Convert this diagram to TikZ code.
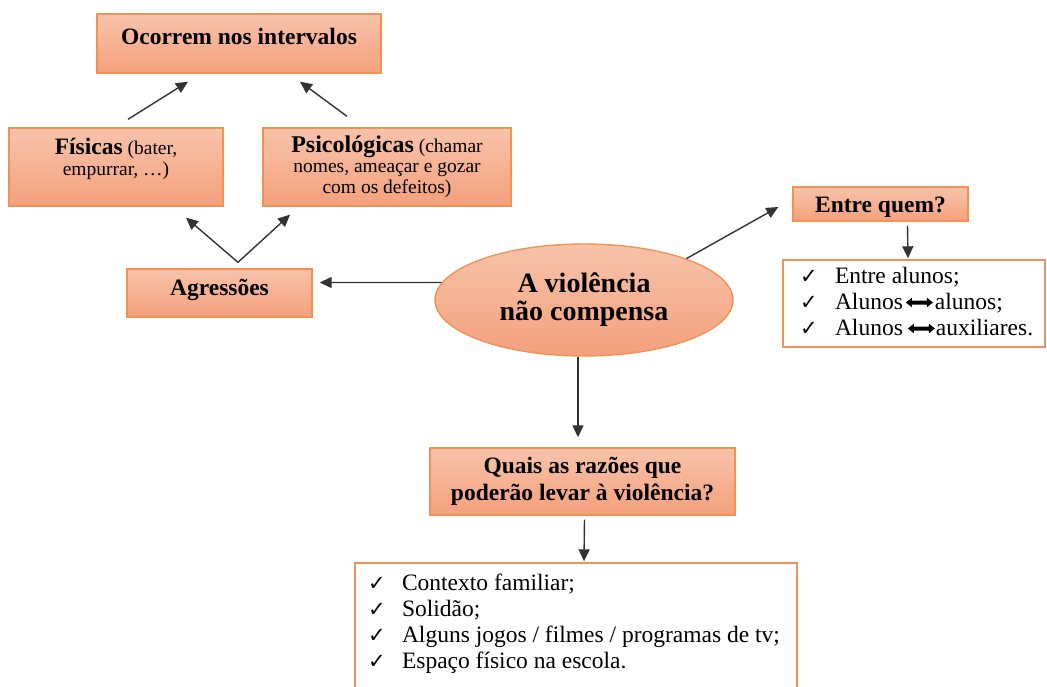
\documentclass[tikz,border=0pt]{standalone}
\usepackage{fontspec}
\setmainfont{Liberation Serif}
\newfontfamily\symf{DejaVu Sans}
\usetikzlibrary{arrows.meta,shapes.geometric}
\definecolor{bord}{HTML}{F19255}
\definecolor{ftop}{HTML}{F7C3AA}
\definecolor{fbot}{HTML}{F4A07C}
\newcommand\pbx[3]{\parbox[c][#2][t]{#1}{#3}}
\newcommand\ckl[1]{\makebox[#1][l]{\symf\fontsize{21}{21}\selectfont ✓}}
\newcommand\dblarr{\tikz[baseline=-6.5pt,x=1pt,y=1pt]\fill[black] (0,0)--(6,4.8)--(6,2)--(21,2)--(21,4.8)--(27,0)--(21,-4.8)--(21,-2)--(6,-2)--(6,-4.8)--cycle;}
\tikzset{
  box/.style={draw=bord, line width=1.4pt, top color=ftop, bottom color=fbot, inner sep=0pt},
  listbox/.style={draw=bord, line width=1.4pt, fill=white, inner sep=0pt},
  oval/.style={ellipse, draw=bord, line width=1.4pt, top color=ftop, bottom color=fbot, inner sep=0pt,
    minimum width=298pt, minimum height=112pt, align=center, font=\fontsize{28}{28}\selectfont\bfseries},
  conn/.style={draw=black!80, line width=1.4pt, -{Triangle[length=12pt,width=11pt]}}
}
\begin{document}
\begin{tikzpicture}[x=1pt,y=-1pt]
\useasboundingbox (0,0) rectangle (1047,686);
\fill[white] (0,0) rectangle (1047,686);
\clip (0,0) rectangle (1047,686);

\node[box] (oc) at (239,43.5) {\pbx{284pt}{59pt}{\centering\fontsize{23.5}{25}\selectfont\bfseries\rule{0pt}{30pt}Ocorrem nos intervalos}};
\node[box] (fis) at (116,167) {\pbx{214pt}{78pt}{\centering\fontsize{19.5}{21}\selectfont\rule{0pt}{26pt}{\fontsize{23.5}{21}\selectfont\bfseries Físicas} (bater,\\ empurrar, …)}};
\node[box] (psi) at (387,167) {\pbx{248pt}{78pt}{\centering\fontsize{19.5}{20.5}\selectfont\rule{0pt}{24pt}{\fontsize{24}{20.5}\selectfont\bfseries Psicológicas} (chamar\\ nomes, ameaçar e gozar\\ com os defeitos)}};
\node[box] (agr) at (219.5,293) {\pbx{185pt}{48pt}{\centering\fontsize{23.5}{25}\selectfont\bfseries\rule{0pt}{26pt}Agressões}};
\node[oval] (ell) at (584,300) {A violência\\ não compensa};
\node[box] (entre) at (880.5,204) {\pbx{175pt}{34pt}{\centering\fontsize{23.5}{25}\selectfont\bfseries\rule{0pt}{25pt}Entre quem?}};
\node[listbox] (rlist) at (914,303.5) {\pbx{262pt}{87pt}{\raggedright\fontsize{23.5}{26}\selectfont
  \hspace*{17pt}\ckl{35pt}\rule{0pt}{23pt}Entre alunos;\\
  \hspace*{17pt}\ckl{35pt}Alunos\hspace{3pt}\dblarr\hspace{2pt}alunos;\\
  \hspace*{17pt}\ckl{35pt}Alunos\hspace{5pt}\dblarr\hspace{1pt}auxiliares.}};
\node[box] (quais) at (582.5,481.5) {\pbx{305pt}{67pt}{\centering\fontsize{23.5}{27}\selectfont\bfseries\rule{0pt}{25pt}Quais as razões que\\ poderão levar à violência?}};
\node[listbox] (blist) at (576,641.5) {\pbx{442pt}{157pt}{\raggedright\fontsize{23.5}{26}\selectfont
  \hspace*{13pt}\ckl{34pt}\rule{0pt}{27pt}Contexto familiar;\\
  \hspace*{13pt}\ckl{34pt}Solidão;\\
  \hspace*{13pt}\ckl{34pt}Alguns jogos / filmes / programas de tv;\\
  \hspace*{13pt}\ckl{34pt}Espaço físico na escola.}};

\draw[conn] ([shift={(12,-8)}]fis.north) -- ([shift={(-51,8)}]oc.south);
\draw[conn] ([shift={(-40,-11)}]psi.north) -- ([shift={(61,8)}]oc.south);
\draw[conn] ([shift={(18.5,-6)}]agr.north) -- ([shift={(70,11)}]fis.south);
\draw[conn] ([shift={(18.5,-6)}]agr.north) -- ([shift={(-97,8)}]psi.south);
\draw[conn] (ell.173) -- ([shift={(7,-10.5)}]agr.east);
\draw[conn] (ell.22) -- ([shift={(-14,3)}]entre.west);
\draw[conn] ([shift={(27,4)}]entre.south) -- ([shift={(-6,-1)}]rlist.north);
\draw[conn] ([shift={(-6,0)}]ell.south) -- ([shift={(-4.5,-10)}]quais.north);
\draw[conn] ([shift={(2,4)}]quais.south) -- ([shift={(8,-1)}]blist.north);
\end{tikzpicture}
\end{document}
